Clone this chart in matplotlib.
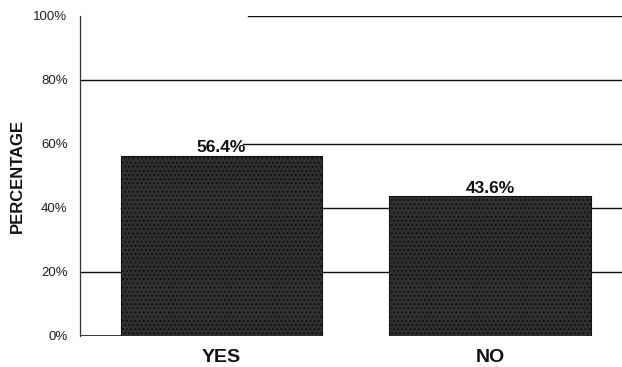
import matplotlib.pyplot as plt

# ── data ──────────────────────────────────────────────────────────────────────
categories = ["YES", "NO"]
values     = [56.4, 43.6]
bar_labels = ["56.4%", "43.6%"]
yticks     = [0, 20, 40, 60, 80, 100]

plt.rcParams["font.family"] = ["Liberation Sans", "DejaVu Sans"]
plt.rcParams["hatch.color"] = "#7a7a7a"
plt.rcParams["hatch.linewidth"] = 0.9

fig = plt.figure(figsize=(6.22, 3.67), dpi=100)
ax = fig.add_axes([80/622, 31/367, 542/622, 320/367])

x = list(range(len(categories)))

# ── gridlines (partial, as in the scanned original) ──────────────────────────
grid_start = {20: 0.0, 40: 0.075, 60: 0.30, 80: 0.0, 100: 0.31}
for y, x0 in grid_start.items():
    ax.axhline(y, xmin=x0, xmax=1, color="#111111", lw=1.0, zorder=0)
ax.axhline(0, xmin=0, xmax=0.08, color="#111111", lw=1.2, zorder=0)

bars = ax.bar(x, values, width=0.75, color="#303030", edgecolor="#111111",
              hatch="....", lw=0.8, zorder=2)

for b, lbl in zip(bars, bar_labels):
    ax.text(b.get_x() + b.get_width()/2, b.get_height() + 0.2, lbl,
            ha="center", va="bottom", fontsize=12.5, fontweight="bold",
            color="#111111", zorder=3)

ax.set_xlim(-0.527, 1.492)
ax.set_ylim(0, 100)
ax.set_yticks(yticks)
ax.set_yticklabels([f"{t}%" for t in yticks], fontsize=9.5, color="#222222")
ax.set_xticks(x)
ax.set_xticklabels(categories, fontsize=14, fontweight="bold", color="#111111")
ax.tick_params(axis="y", length=0, pad=9)
ax.tick_params(axis="x", length=0, pad=9)

ax.set_ylabel("PERCENTAGE", fontsize=12, fontweight="bold", color="#111111",
              labelpad=6)

for s in ["top", "right", "bottom"]:
    ax.spines[s].set_visible(False)
ax.spines["left"].set_color("#333333")
ax.spines["left"].set_linewidth(0.9)

fig.savefig("out.png", dpi=100)
